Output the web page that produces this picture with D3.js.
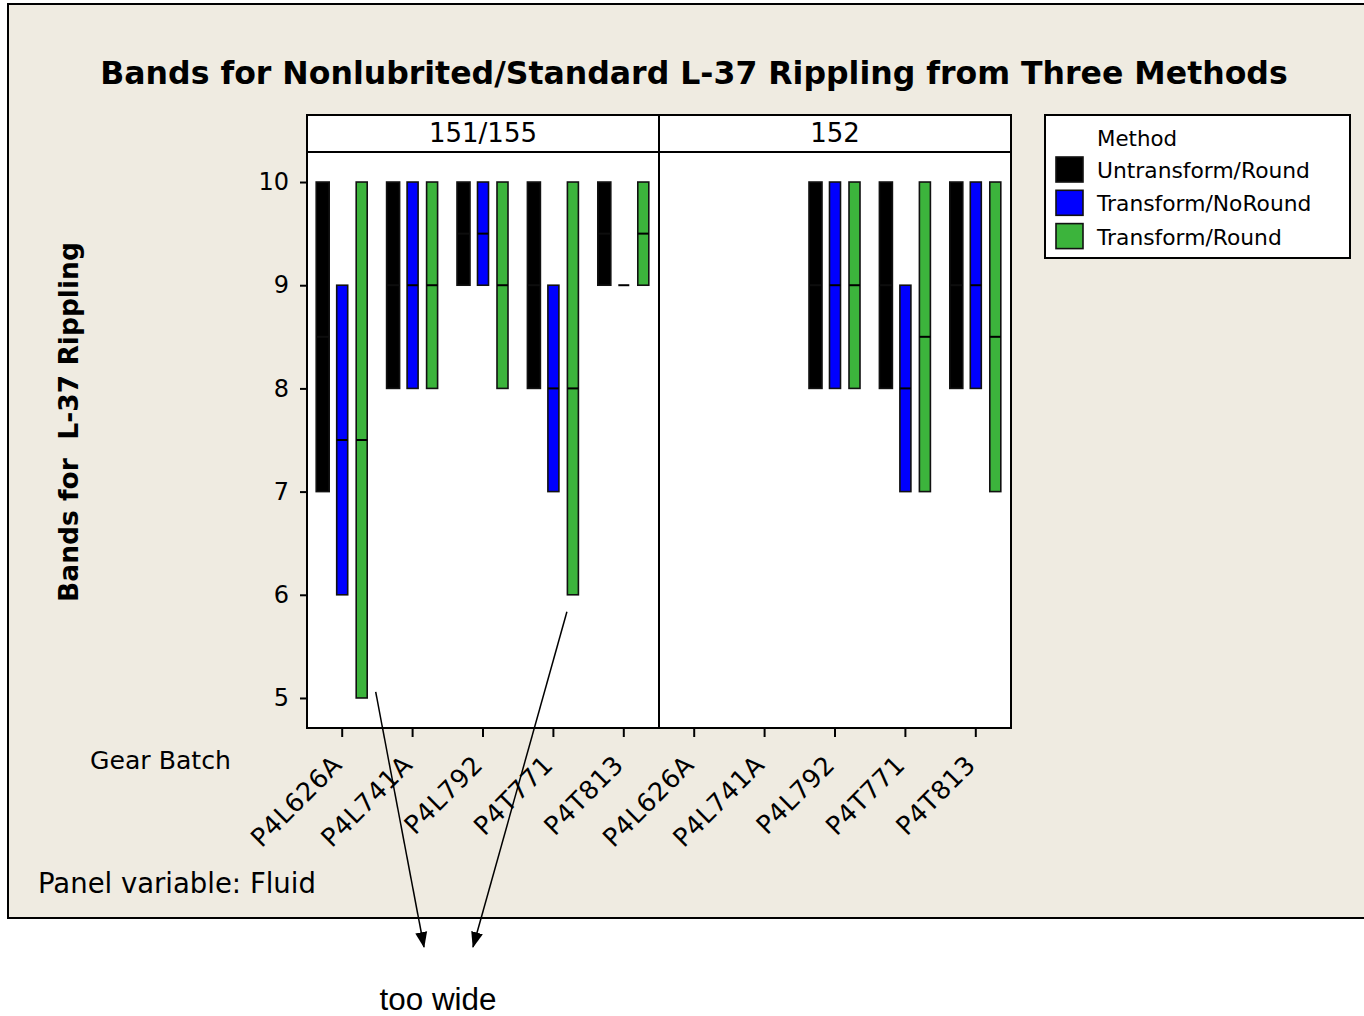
<!DOCTYPE html>
<html>
<head>
<meta charset="utf-8">
<script src="https://cdn.jsdelivr.net/npm/d3@7"></script>
<style>
  body { margin: 0; background: #ffffff; }
  svg { display: block; }
</style>
</head>
<body>
<script>
// ---- data -------------------------------------------------------------
const fluids = ["151/155", "152"];
const batches = ["P4L626A", "P4L741A", "P4L792", "P4T771", "P4T813"];
const methods = ["Untransform/Round", "Transform/NoRound", "Transform/Round"];
const methodColors = ["#000000", "#0000ff", "#3cb43c"];
const yTickValues = [5, 6, 7, 8, 9, 10];

// Each entry: [low, median, high] per fluid x batch (fluid 151/155 first), null = no band
const untransformRound = [
  [7, 8.5, 10], [8, 9, 10], [9, 9.5, 10], [8, 9, 10], [9, 9.5, 10],
  null, null, [8, 9, 10], [8, 9, 10], [8, 9, 10]
];
const transformNoRound = [
  [6, 7.5, 9], [8, 9, 10], [9, 9.5, 10], [7, 8, 9], [9, 9, 9],
  null, null, [8, 9, 10], [7, 8, 9], [8, 9, 10]
];
const transformRound = [
  [5, 7.5, 10], [8, 9, 10], [8, 9, 10], [6, 8, 10], [9, 9.5, 10],
  null, null, [8, 9, 10], [7, 8.5, 10], [7, 8.5, 10]
];
const bandsByMethod = [untransformRound, transformNoRound, transformRound];

// Annotation: arrows from the widest bands to the note below the frame
const noteText = "too wide";
const arrowTargets = [ // [fluid, batch, method, value at start]
  ["151/155", "P4L626A", 2, 5],
  ["151/155", "P4T771", 2, 6]
];

// ---- layout -----------------------------------------------------------
const W = 1364, H = 1016;
const plot = { left: 307, right: 1011, top: 152, bottom: 728 };
const headerTop = 115;
const font = "'DejaVu Sans', Verdana, sans-serif";

const svg = d3.select("body").append("svg")
  .attr("width", W).attr("height", H);

svg.append("defs").append("marker")
  .attr("id", "arrowhead")
  .attr("markerUnits", "userSpaceOnUse")
  .attr("markerWidth", 16).attr("markerHeight", 16)
  .attr("viewBox", "0 -6 16 12")
  .attr("refX", 15).attr("refY", 0)
  .attr("orient", "auto")
  .append("path").attr("d", "M0,-6L16,0L0,6Z").attr("fill", "#000");

// outer frame
svg.append("rect")
  .attr("x", 8).attr("y", 4).attr("width", W + 20).attr("height", 914)
  .attr("fill", "#efebe1").attr("stroke", "#000").attr("stroke-width", 2);

// shrink / grow a text to a given width
function fit(sel, width) {
  const fs = parseFloat(sel.attr("font-size"));
  const len = sel.node().getComputedTextLength();
  sel.attr("font-size", (fs * width / len).toFixed(2));
  return sel;
}

// title
fit(svg.append("text")
  .attr("x", 694).attr("y", 84)
  .attr("text-anchor", "middle")
  .attr("font-family", font).attr("font-weight", "bold")
  .attr("font-size", 32).attr("fill", "#000")
  .text("Bands for Nonlubrited/Standard L-37 Rippling from Three Methods"), 1188);

// scales
const panelW = (plot.right - plot.left) / fluids.length;
const xPanel = d3.scaleBand().domain(fluids).range([plot.left, plot.right]);
const xBatch = d3.scaleBand().domain(batches).range([0, panelW]);
const xMethod = d3.scalePoint().domain(d3.range(methods.length)).range([-19.5, 19.5]);
const y = d3.scaleLinear().domain([4.709, 10.291]).range([plot.bottom, plot.top]);

// panels
fluids.forEach((f, fi) => {
  const px = xPanel(f);
  const g = svg.append("g").attr("transform", `translate(${px},0)`);
  g.append("rect")
    .attr("x", 0).attr("y", plot.top).attr("width", panelW).attr("height", plot.bottom - plot.top)
    .attr("fill", "#fff").attr("stroke", "#000").attr("stroke-width", 2);
  g.append("rect")
    .attr("x", 0).attr("y", headerTop).attr("width", panelW).attr("height", plot.top - headerTop)
    .attr("fill", "#fff").attr("stroke", "#000").attr("stroke-width", 2);
  const head = g.append("text")
    .attr("x", panelW / 2).attr("y", 142)
    .attr("text-anchor", "middle")
    .attr("font-family", font).attr("font-size", 24).attr("fill", "#000")
    .text(f);
  if (fi === 0) fit(head, 108);
  else head.attr("font-size", svg.select("g text").attr("font-size"));

  // x axis
  const ax = g.append("g").attr("transform", `translate(0,${plot.bottom})`)
    .call(d3.axisBottom(xBatch).tickSize(9).tickSizeOuter(0).tickPadding(0));
  ax.select(".domain").remove();
  ax.selectAll(".tick line").attr("stroke", "#000").attr("stroke-width", 2);
  ax.selectAll(".tick text")
    .attr("font-family", font).attr("font-size", 25.5).attr("fill", "#000")
    .attr("letter-spacing", 0.6)
    .attr("text-anchor", "end")
    .attr("dy", 0)
    .attr("transform", "translate(-5,32) rotate(-45)");

  // bands
  bandsByMethod.forEach((arr, mi) => {
    const rows = batches.map((b, bi) => ({ b, v: arr[fi * batches.length + bi] }))
      .filter(d => d.v);
    const bw = mi === 0 ? 13 : 11;
    const cx = d => xBatch(d.b) + xBatch.bandwidth() / 2 + xMethod(mi);
    g.selectAll(null).data(rows.filter(d => d.v[0] !== d.v[2])).join("rect")
      .attr("x", d => cx(d) - bw / 2)
      .attr("y", d => y(d.v[2]))
      .attr("width", bw)
      .attr("height", d => y(d.v[0]) - y(d.v[2]))
      .attr("fill", methodColors[mi])
      .attr("stroke", "#111").attr("stroke-width", 1.6);
    g.selectAll(null).data(rows).join("line")
      .attr("x1", d => cx(d) - bw / 2).attr("x2", d => cx(d) + bw / 2)
      .attr("y1", d => y(d.v[1])).attr("y2", d => y(d.v[1]))
      .attr("stroke", mi === 0 ? "#0d0d0d" : "#000").attr("stroke-width", 2);
  });
});

// y axis
const ay = svg.append("g").attr("transform", `translate(${plot.left},0)`)
  .call(d3.axisLeft(y).tickValues(yTickValues).tickFormat(d3.format("d"))
    .tickSize(7).tickSizeOuter(0).tickPadding(11));
ay.select(".domain").remove();
ay.selectAll(".tick line").attr("stroke", "#000").attr("stroke-width", 2);
ay.selectAll(".tick text")
  .attr("font-family", font).attr("font-size", 24).attr("fill", "#000");

// y label
fit(svg.append("text")
  .attr("transform", "translate(78,422) rotate(-90)")
  .attr("text-anchor", "middle")
  .attr("font-family", font).attr("font-weight", "bold")
  .attr("font-size", 27).attr("fill", "#000")
  .attr("xml:space", "preserve")
  .text("Bands for  L-37 Rippling"), 360);

// x label & panel note
fit(svg.append("text")
  .attr("x", 90).attr("y", 769)
  .attr("font-family", font).attr("font-size", 23).attr("fill", "#000")
  .text("Gear Batch"), 141);
fit(svg.append("text")
  .attr("x", 38).attr("y", 893)
  .attr("font-family", font).attr("font-size", 25).attr("fill", "#000")
  .text("Panel variable: Fluid"), 278);

// legend
const lg = svg.append("g").attr("transform", "translate(1045,115)");
lg.append("rect").attr("width", 305).attr("height", 143)
  .attr("fill", "#fff").attr("stroke", "#000").attr("stroke-width", 2);
fit(lg.append("text").attr("x", 52).attr("y", 31)
  .attr("font-family", font).attr("font-size", 21).attr("fill", "#000")
  .text("Method"), 80);
const items = lg.selectAll(".item").data(methods).join("g")
  .attr("class", "item")
  .attr("transform", (d, i) => `translate(0,${42 + i * 33.3})`);
items.append("rect").attr("x", 11).attr("width", 27).attr("height", 25)
  .attr("fill", (d, i) => methodColors[i]).attr("stroke", "#111").attr("stroke-width", 1.6);
const labels = items.append("text").attr("x", 52).attr("y", 21)
  .attr("font-family", font).attr("font-size", 21).attr("fill", "#000")
  .text(d => d);
{
  const len = labels.nodes()[0].getComputedTextLength();
  labels.attr("font-size", (21 * 213 / len).toFixed(2));
}

// annotation arrows and note
const noteX = 438, noteY = 1010;
const arrowEnds = [[424, 947], [473, 947]];
const arrowStarts = arrowTargets.map(([f, b, mi, v], i) => {
  const cx = xPanel(f) + xBatch(b) + xBatch.bandwidth() / 2 + xMethod(mi);
  return i === 0 ? [cx + 14, y(v) - 6] : [cx - 6, y(v) + 17];
});
arrowStarts.forEach((s, i) => {
  svg.append("line")
    .attr("x1", s[0]).attr("y1", s[1])
    .attr("x2", arrowEnds[i][0]).attr("y2", arrowEnds[i][1])
    .attr("stroke", "#000").attr("stroke-width", 1.5)
    .attr("marker-end", "url(#arrowhead)");
});
fit(svg.append("text")
  .attr("x", noteX).attr("y", noteY)
  .attr("text-anchor", "middle")
  .attr("font-family", "'Liberation Sans', Arial, sans-serif")
  .attr("font-size", 27).attr("fill", "#000")
  .text(noteText), 117);
</script>
</body>
</html>
